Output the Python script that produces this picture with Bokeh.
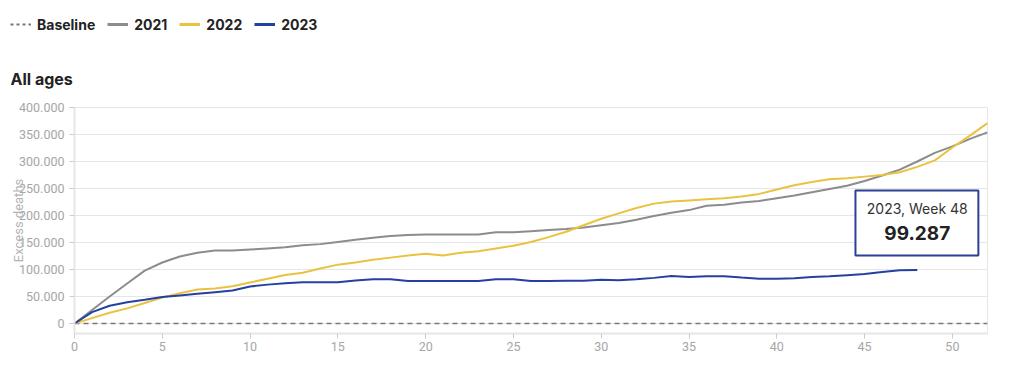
from bokeh.plotting import figure
from bokeh.layouts import column
from bokeh.models import (ColumnDataSource, FixedTicker, Legend, LegendItem, Label,
                          BoxAnnotation, Range1d)
from bokeh.embed import file_html
from bokeh.resources import INLINE

weeks_full = list(range(0, 53))
y2021 = [0, 25000, 50000, 74000, 98000, 113000, 124000, 131000, 135000, 135000,
         137000, 139000, 141000, 145000, 147000, 151000, 155000, 159000, 162000, 164000,
         165000, 165000, 165000, 165000, 169000, 169000, 171000, 173000, 175000, 178000,
         182000, 186000, 192000, 199000, 205000, 210000, 218000, 220000, 224000, 227000,
         232000, 237000, 243000, 249000, 255000, 264000, 274000, 285000, 300000, 316000,
         328000, 342000, 354000]
y2022 = [0, 10000, 20000, 28000, 38000, 48000, 56000, 63000, 65000, 69000,
         76000, 83000, 90000, 94000, 102000, 109000, 113000, 118000, 122000, 126000,
         129000, 126000, 131000, 134000, 139000, 144000, 151000, 160000, 170000, 182000,
         194000, 204000, 214000, 222000, 226000, 228000, 230000, 232000, 235000, 240000,
         248000, 256000, 262000, 267000, 269000, 272000, 275000, 280000, 290000, 302000,
         326000, 348000, 371000]
weeks_2023 = list(range(0, 49))
y2023 = [0, 21000, 33000, 39500, 44000, 49000, 52000, 55000, 58000, 61000,
         68500, 72000, 74500, 76500, 76500, 76500, 79500, 82000, 82000, 78500,
         78500, 78500, 78500, 78500, 82000, 82000, 78500, 78500, 79000, 79000,
         81000, 80000, 82000, 84500, 88000, 86000, 87500, 87500, 85000, 83000,
         83000, 84000, 86000, 87500, 89500, 91500, 95500, 98500, 99287]
baseline = [0] * len(weeks_full)

y_ticks = [0, 50000, 100000, 150000, 200000, 250000, 300000, 350000, 400000]
x_ticks = [0, 5, 10, 15, 20, 25, 30, 35, 40, 45, 50]
legend_labels = ["Baseline", "2021", "2022", "2023"]

def fmt(v):
    return f"{v:,}".replace(",", ".")

C2021 = "#8c8c8c"
C2022 = "#ebc23f"
C2023 = "#2541a0"
CBASE = "#777777"
BOLD_FONT = "Inter"
TICK_FONT = "Roboto"
HDR_H = 95

# ---------------- header (legend + title) ----------------
hdr = figure(width=1000, height=HDR_H, output_backend="svg", toolbar_location=None,
             x_range=Range1d(0, 1000), y_range=Range1d(HDR_H, 0),
             x_axis_type=None, y_axis_type=None,
             min_border_left=0, min_border_right=0, min_border_top=0, min_border_bottom=0)
hdr.outline_line_color = None
hdr.xgrid.visible = False
hdr.ygrid.visible = False

nan2 = [float("nan")] * 2
lb = hdr.line(x=nan2, y=nan2, line_color=CBASE, line_width=2, line_dash="3 3")
l21 = hdr.line(x=nan2, y=nan2, line_color=C2021, line_width=3)
l22 = hdr.line(x=nan2, y=nan2, line_color=C2022, line_width=3)
l23 = hdr.line(x=nan2, y=nan2, line_color=C2023, line_width=3)
legend = Legend(items=[LegendItem(label=legend_labels[0], renderers=[lb]),
                       LegendItem(label=legend_labels[1], renderers=[l21]),
                       LegendItem(label=legend_labels[2], renderers=[l22]),
                       LegendItem(label=legend_labels[3], renderers=[l23])],
                orientation="horizontal", location=(10, HDR_H - 33),
                glyph_width=21, glyph_height=18, label_standoff=6, spacing=12,
                padding=0, margin=0, border_line_alpha=0, background_fill_alpha=0,
                label_text_font=BOLD_FONT, label_text_font_style="bold",
                label_text_font_size="14px", label_text_color="#222222")
hdr.add_layout(legend, "center")
hdr.add_layout(Label(x=10, y=78, text="All ages", text_font=BOLD_FONT,
                     text_font_style="bold", text_font_size="16px", text_color="#222222",
                     text_baseline="middle", text_align="left"))

# ---------------- main chart ----------------
p = figure(width=1000, height=360 - HDR_H, output_backend="svg", toolbar_location=None,
           x_range=Range1d(0, 52), y_range=Range1d(-18500, 400000),
           min_border_left=74, min_border_right=13, min_border_top=107 - HDR_H,
           min_border_bottom=27)
p.background_fill_color = "white"
p.outline_line_color = "#e6e6e6"

for fig in (hdr, p):
    try:
        fig.frame_align = False
    except Exception:
        pass

src21 = ColumnDataSource(dict(x=weeks_full, y=y2021))
src22 = ColumnDataSource(dict(x=weeks_full, y=y2022))
src23 = ColumnDataSource(dict(x=weeks_2023, y=y2023))
srcb = ColumnDataSource(dict(x=weeks_full, y=baseline))

p.line("x", "y", source=srcb, line_color=CBASE, line_width=1.5, line_dash="5 4")
p.line("x", "y", source=src21, line_color=C2021, line_width=2)
p.line("x", "y", source=src22, line_color=C2022, line_width=2)
p.line("x", "y", source=src23, line_color=C2023, line_width=2)

p.xgrid.visible = False
p.ygrid.grid_line_color = "#e6e6e6"
p.ygrid.grid_line_width = 1
p.yaxis.ticker = FixedTicker(ticks=y_ticks)
p.yaxis.major_label_overrides = {v: fmt(v) for v in y_ticks}
p.xaxis.ticker = FixedTicker(ticks=x_ticks)
for ax in (p.xaxis[0], p.yaxis[0]):
    ax.axis_line_color = "#e6e6e6"
    ax.axis_line_width = 2
    ax.major_tick_line_color = "#cccccc"
    ax.major_tick_out = 5
    ax.major_tick_in = 0
    ax.minor_tick_out = 0
    ax.minor_tick_in = 0
    ax.major_label_text_color = "#a6a6a6"
    ax.major_label_text_font = TICK_FONT
    ax.major_label_text_font_size = "12.5px"
p.yaxis.major_label_standoff = 5
p.xaxis.major_label_standoff = 3
p.yaxis.axis_label = "Excess deaths"
p.yaxis.axis_label_text_font = TICK_FONT
p.yaxis.axis_label_text_font_style = "normal"
p.yaxis.axis_label_text_font_size = "13px"
p.yaxis.axis_label_text_color = "#b3b3b3"
p.yaxis.axis_label_standoff = -10

# highlighted tooltip for the last 2023 point
last_week = weeks_2023[-1]
last_val = y2023[-1]
p.add_layout(BoxAnnotation(left=44.48, right=51.48, top=246300, bottom=125900,
                           fill_color="white", fill_alpha=1, line_color="#2b3f94",
                           line_alpha=1, line_width=2))
p.add_layout(Label(x=48.0, y=213000, text=f"2023, Week {last_week}", text_font=BOLD_FONT,
                   text_font_size="14px", text_color="#333333",
                   text_align="center", text_baseline="middle"))
p.add_layout(Label(x=48.0, y=166700, text=fmt(last_val), text_font=BOLD_FONT,
                   text_font_style="bold", text_font_size="19px", text_color="#222222",
                   text_align="center", text_baseline="middle"))

open("out.html", "w").write(file_html(column(hdr, p, spacing=0), INLINE))
